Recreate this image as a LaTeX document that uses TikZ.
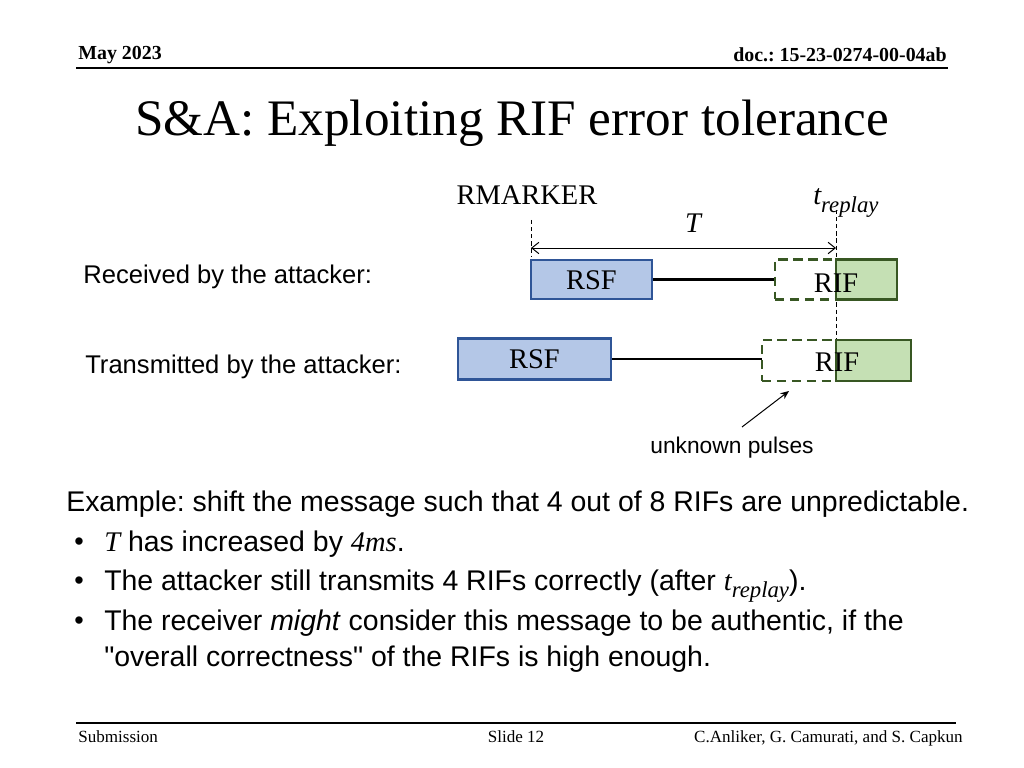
\documentclass[tikz,border=0pt]{standalone}
\usepackage{fontspec}
\setmainfont{Liberation Serif}
\setsansfont{Liberation Sans}
\newfontfamily\plainsans{Liberation Sans}
\usetikzlibrary{arrows.meta}
\def\pxu{0.703125pt}
\newcommand\mvar[1]{{\rmfamily\itshape #1}}
\newcommand\mvarsub[3]{{\rmfamily\itshape #1\raisebox{-0.28em}{\fontsize{#3}{#3}\selectfont #2}}}
\definecolor{rsfFill}{HTML}{B4C7E7}
\definecolor{rsfLine}{HTML}{2F5597}
\definecolor{rifFill}{HTML}{C5E0B4}
\definecolor{rifLine}{HTML}{385723}
\frenchspacing
\tikzset{
  hdr/.style={font=\fontsize{14}{16}\selectfont\bfseries, inner sep=0pt},
  ftr/.style={font=\fontsize{12}{14}\selectfont, inner sep=0pt},
  body/.style={font=\sffamily\fontsize{20}{24}\selectfont, inner sep=0pt, anchor=base west},
  bul/.style={font=\sffamily\fontsize{19}{22}\selectfont, inner sep=0pt, anchor=base west},
  side/.style={font=\sffamily\fontsize{18}{21}\selectfont, inner sep=0pt, anchor=base west},
  rsfbox/.style={draw=rsfLine, fill=rsfFill, line width=1.7pt, inner sep=0pt, font=\fontsize{20}{24}\selectfont},
  rifbox/.style={draw=rifLine, fill=rifFill, line width=1.7pt, inner sep=0pt},
  ghost/.style={draw=rifLine, dashed, dash pattern=on 6.5pt off 4pt, line width=1.7pt, inner sep=0pt},
  tmark/.style={dashed, dash pattern=on 3pt off 2pt, line width=0.6pt},
  wire/.style={line width=2pt},
  lbl/.style={font=\fontsize{20}{24}\selectfont, inner sep=0pt},
}
\begin{document}
\begin{tikzpicture}[x=0.703125pt, y=-0.703125pt]
\useasboundingbox (0,0) rectangle (1024,768);
% header
\node[hdr, anchor=base west] (date) at (78,60) {May 2023};
\node[hdr, anchor=base east] (doc) at (947,62) {doc.: 15-23-0274-00-04ab};
\draw[line width=1.2pt] (76,68) -- (948,68);
% title
\node[font=\fontsize{36}{40}\selectfont, inner sep=0pt, anchor=base] (title) at (512,136) {S\&A: Exploiting RIF error tolerance};
% timing marks
\coordinate (rmTop) at (531,220);
\coordinate (rmBot) at (531,256);
\coordinate (trTop) at (836,210);
\coordinate (trBot) at (836,340);
\draw[tmark] (rmTop) -- (rmBot);
\draw[tmark] (trTop) -- (trBot);
\coordinate (tA) at (531,248);
\coordinate (tB) at (836,248);
\draw[line width=0.7pt, {Straight Barb[length=5pt,width=8pt]}-{Straight Barb[length=5pt,width=8pt]}] (tA) -- (tB);
\node[lbl, anchor=base] (rm) at (527,205) {RMARKER};
\node[lbl, anchor=base west] (tr) at (813,205) {\mvarsub{t}{replay}{16}};
\node[lbl, anchor=base] (T) at (693,233) {\mvar{T}};
% row 1
\node[side] (recv) at (83,284) {Received by the attacker:};
\node[rsfbox, minimum width=121*\pxu, minimum height=39*\pxu, text depth=0pt, text height=14pt] (rsfA) at (591.5,279.5) {RSF};
\node[ghost, minimum width=61*\pxu, minimum height=40*\pxu] (dashA) at (805.5,279.5) {};
\node[rifbox, minimum width=61*\pxu, minimum height=40*\pxu] (rifA) at (866.5,279.5) {};
\draw[wire] (rsfA.east) -- (dashA.west);
\node[lbl] (ripA) at (836,283) {RIF};
% row 2
\node[side] (trans) at (85,373) {Transmitted by the attacker:};
\node[rsfbox, minimum width=153*\pxu, minimum height=41*\pxu] (rsfB) at (534.5,359) {RSF};
\node[ghost, minimum width=74*\pxu, minimum height=41*\pxu] (dashB) at (799,360.5) {};
\node[rifbox, minimum width=75*\pxu, minimum height=41*\pxu] (rifB) at (873.5,360.5) {};
\coordinate (wB) at (762,359);
\draw[wire] (rsfB.east) -- (wB);
\node[lbl] (ripB) at (837,362) {RIF};
% annotation
\node[font=\sffamily\fontsize{16}{19}\selectfont, inner sep=0pt, anchor=base] (unk) at (732,453) {unknown pulses};
\coordinate (unkTail) at (742,427);
\coordinate (unkHead) at (789,391);
\draw[line width=0.7pt, -{Stealth[length=6pt,width=5pt]}] (unkTail) -- (unkHead);
% body text
\node[body] (l1) at (66,511) {Example: shift the message such that 4 out of 8 RIFs are unpredictable.};
\node[bul] (b2) at (74,550) {•};
\node[body] (l2) at (104,551) {\mvar{T} has increased by \mvar{4ms}.};
\node[bul] (b3) at (74,589) {•};
\node[body] (l3) at (104,590) {The attacker still transmits 4 RIFs correctly (after \mvarsub{t}{replay}{16}).};
\node[bul] (b4) at (74,629) {•};
\node[body] (l4) at (104,630) {The receiver \textit{might} consider this message to be authentic, if the};
\node[body] (l5) at (104,666) {{\plainsans "}overall correctness{\plainsans "} of the RIFs is high enough.};
% footer
\draw[line width=1.2pt] (76,723) -- (956,723);
\node[ftr, anchor=base west] (sub) at (78,742) {Submission};
\node[ftr, anchor=base] (slide) at (516,742) {Slide 12};
\node[ftr, anchor=base east] (auth) at (963,742) {C.Anliker, G. Camurati, and S. Capkun};
\end{tikzpicture}
\end{document}
